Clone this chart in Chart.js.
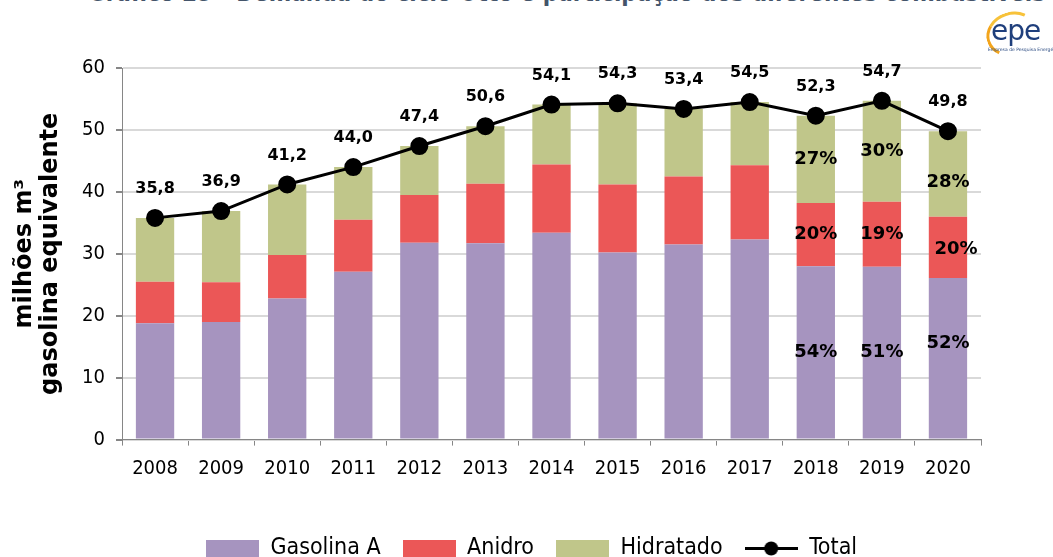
<!DOCTYPE html>
<html>
<head>
<meta charset="utf-8">
<script src="https://cdn.jsdelivr.net/npm/chart.js@4/dist/chart.umd.min.js"></script>
<style>
  html, body { margin: 0; padding: 0; background: #fff; overflow: hidden; }
  body { width: 1053px; height: 557px; position: relative; }
  #wrap { position: absolute; left: 0; top: 0; width: 1053px; height: 580px; }
  #titulo {
    position: absolute; left: 88px; top: -19px; white-space: nowrap;
    font: bold 24px/24px "DejaVu Sans Condensed", "DejaVu Sans", sans-serif; color: #44546a;
  }
  #logo { position: absolute; left: 982px; top: 10px; width: 71px; height: 44px; }
  #logo .arc {
    position: absolute; left: 4px; top: 2px; width: 46px; height: 38px;
    border: 3px solid transparent; border-left-color: #f3a51c; border-top-color: #f7c23a;
    border-radius: 50%; transform: rotate(-18deg);
  }
  #logo .epe {
    position: absolute; left: 9px; top: 4px; font: 28px "DejaVu Sans", sans-serif;
    color: #1f3f7c; letter-spacing: -1px;
  }
  #logo .sub {
    position: absolute; left: 6px; top: 37px; font: 4.5px "DejaVu Sans", sans-serif;
    color: #2a4a80; white-space: nowrap;
  }
</style>
</head>
<body>
<div id="titulo">Gráfico 25 - Demanda do ciclo Otto e participação dos diferentes combustíveis</div>
<div id="wrap"><canvas id="chart"></canvas></div>
<div id="logo"><div class="arc"></div><span class="epe">epe</span><span class="sub">Empresa de Pesquisa Energética</span></div>
<script>
// valores (milhões m³ gasolina equivalente)
const years = ['2008', '2009', '2010', '2011', '2012', '2013', '2014', '2015', '2016', '2017', '2018', '2019', '2020'];
const gasolinaA = [18.8, 19.0, 22.8, 27.1, 31.8, 31.7, 33.4, 30.2, 31.5, 32.3, 28.0, 27.9, 26.1];
const anidro = [6.7, 6.4, 7.0, 8.4, 7.7, 9.6, 11.0, 11.0, 11.0, 12.0, 10.2, 10.5, 9.9];
const hidratado = [10.3, 11.5, 11.4, 8.5, 7.9, 9.3, 9.7, 13.1, 10.9, 10.2, 14.1, 16.3, 13.8];
const total = [35.8, 36.9, 41.2, 44.0, 47.4, 50.6, 54.1, 54.3, 53.4, 54.5, 52.3, 54.7, 49.8];
const pctGasolina = [null, null, null, null, null, null, null, null, null, null, '54%', '51%', '52%'];
const pctAnidro = [null, null, null, null, null, null, null, null, null, null, '20%', '19%', '20%'];
const pctHidratado = [null, null, null, null, null, null, null, null, null, null, '27%', '30%', '28%'];
const yTicks = [0, 10, 20, 30, 40, 50, 60];

const cores = { gas: '#a694bf', ani: '#eb5757', hid: '#c0c68a' };
const fontCond = '"DejaVu Sans Condensed", "DejaVu Sans", sans-serif';
const fontBold = '"DejaVu Sans", sans-serif';

// deslocamentos manuais dos rótulos de 2020 (como no original)
const pctShift = { '0-12': [0, -15], '1-12': [8, 2], '2-12': [0, 8] };

function boxImg(color) {
  const c = document.createElement('canvas');
  c.width = 53; c.height = 17;
  const g = c.getContext('2d');
  g.fillStyle = color;
  g.fillRect(0, 0, 53, 17);
  return c;
}
function lineImg() {
  const c = document.createElement('canvas');
  c.width = 53; c.height = 17;
  const g = c.getContext('2d');
  g.strokeStyle = '#000'; g.lineWidth = 3;
  g.beginPath(); g.moveTo(0, 8.5); g.lineTo(53, 8.5); g.stroke();
  g.fillStyle = '#000';
  g.beginPath(); g.arc(26.5, 8.5, 7, 0, Math.PI * 2); g.fill();
  return c;
}

const labelPlugin = {
  id: 'valueLabels',
  afterLayout(chart) {
    // legenda um pouco à esquerda, como no original
    chart.legend.left -= 20;
    chart.legend.right -= 20;
  },
  afterDatasetsDraw(chart) {
    const ctx = chart.ctx;
    ctx.save();
    ctx.fillStyle = '#000';
    ctx.textAlign = 'center';
    ctx.textBaseline = 'middle';
    ctx.font = 'bold 16px ' + fontBold;
    chart.getDatasetMeta(3).data.forEach((pt, i) => {
      ctx.fillText(total[i].toFixed(1).replace('.', ','), pt.x, pt.y - 29);
    });
    ctx.font = 'bold 18px ' + fontBold;
    [pctGasolina, pctAnidro, pctHidratado].forEach((arr, d) => {
      chart.getDatasetMeta(d).data.forEach((bar, i) => {
        if (!arr[i]) return;
        const s = pctShift[d + '-' + i] || [0, 0];
        ctx.fillText(arr[i], bar.x + s[0], (bar.y + bar.base) / 2 + s[1]);
      });
    });
    ctx.restore();
  }
};

new Chart(document.getElementById('chart'), {
  type: 'bar',
  data: {
    labels: years,
    datasets: [
      { label: 'Gasolina A', data: gasolinaA, backgroundColor: cores.gas, stack: 'comb', order: 1,
        categoryPercentage: 1, barPercentage: 0.58 },
      { label: 'Anidro', data: anidro, backgroundColor: cores.ani, stack: 'comb', order: 1,
        categoryPercentage: 1, barPercentage: 0.58 },
      { label: 'Hidratado', data: hidratado, backgroundColor: cores.hid, stack: 'comb', order: 1,
        categoryPercentage: 1, barPercentage: 0.58 },
      { type: 'line', label: 'Total', data: total, stack: 'total', order: 0,
        borderColor: '#000', backgroundColor: '#000', borderWidth: 3,
        pointRadius: 7.5, pointHoverRadius: 7.5, pointBackgroundColor: '#000' }
    ]
  },
  options: {
    responsive: true,
    maintainAspectRatio: false,
    animation: false,
    layout: { padding: { top: 68, right: 72, left: 0, bottom: 10 } },
    plugins: {
      legend: {
        position: 'bottom',
        fullSize: false,
        title: { display: true, text: '', padding: { top: 0, bottom: 9 } },
        labels: {
          usePointStyle: true,
          pointStyleWidth: 53,
          boxHeight: 17,
          padding: 22,
          color: '#000',
          font: { family: fontCond, size: 23 },
          generateLabels() {
            return [
              { text: 'Gasolina A', fontColor: '#000', pointStyle: boxImg(cores.gas), datasetIndex: 0 },
              { text: 'Anidro', fontColor: '#000', pointStyle: boxImg(cores.ani), datasetIndex: 1 },
              { text: 'Hidratado', fontColor: '#000', pointStyle: boxImg(cores.hid), datasetIndex: 2 },
              { text: 'Total', fontColor: '#000', pointStyle: lineImg(), datasetIndex: 3 }
            ];
          }
        }
      },
      tooltip: { enabled: false }
    },
    scales: {
      x: {
        stacked: true,
        grid: { display: true, drawOnChartArea: false, offset: true, color: '#868686', tickLength: 6 },
        border: { color: '#868686', width: 1 },
        ticks: { color: '#000', padding: 11, font: { family: fontCond, size: 20 } }
      },
      y: {
        stacked: true,
        min: 0, max: 60,
        afterBuildTicks(scale) { scale.ticks = yTicks.map(v => ({ value: v })); },
        afterFit(scale) { scale.width = 122; },
        grid: { color: '#d9d9d9', lineWidth: 2, tickColor: '#868686', tickLength: 6 },
        border: { color: '#868686', width: 1 },
        ticks: { color: '#000', padding: 11, font: { family: fontCond, size: 20 } },
        title: {
          display: true,
          text: ['milhões m³', 'gasolina equivalente'],
          color: '#000',
          font: { family: fontBold, size: 24, weight: 'bold', lineHeight: 1.08 },
          padding: { top: 12, bottom: 0 }
        }
      }
    }
  },
  plugins: [labelPlugin]
});
</script>
</body>
</html>
